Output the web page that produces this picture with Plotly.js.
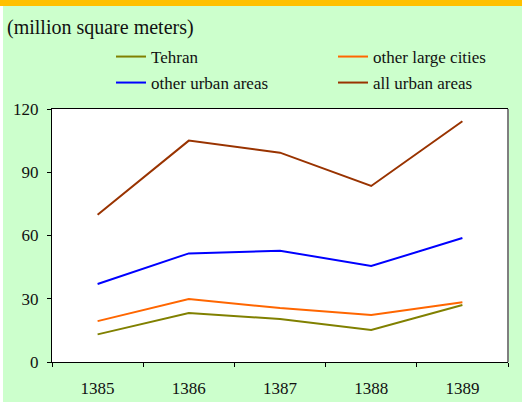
<!DOCTYPE html>
<html>
<head>
<meta charset="utf-8">
<script src="https://cdn.plot.ly/plotly-3.0.1.min.js"></script>
<style>
  html, body { margin: 0; padding: 0; background: #CCFFCC; }
  #chart { width: 522px; height: 402px; }
</style>
</head>
<body>
<div id="chart"></div>
<script>
const years = ["1385", "1386", "1387", "1388", "1389"];
const tehran = [13.1, 23.2, 20.4, 15.2, 27.0];
const otherLargeCities = [19.4, 29.9, 25.6, 22.3, 28.3];
const otherUrbanAreas = [37.0, 51.5, 52.8, 45.5, 58.8];
const allUrbanAreas = [69.8, 105.0, 99.3, 83.5, 114.2];
const yTicks = [0, 30, 60, 90, 120];

const W = 522, H = 402;
const m = { l: 52, r: 14, t: 109, b: 40 };
const pw = W - m.l - m.r, ph = H - m.t - m.b;
const px = x => (x - m.l) / pw;
const py = y => 1 - (y - m.t) / ph;

const serif = "Liberation Serif, Times New Roman, serif";

function tr(name, y, color, legend) {
  return {
    type: "scatter", mode: "lines", name: name, x: years, y: y,
    line: { color: color, width: 2 }, legend: legend, hoverinfo: "skip"
  };
}

const data = [
  tr("Tehran", tehran, "#808000", "legend"),
  tr("other large cities", otherLargeCities, "#FF6600", "legend2"),
  tr("other urban areas", otherUrbanAreas, "#0000FF", "legend3"),
  tr("all urban areas", allUrbanAreas, "#993300", "legend4")
];

const legendBase = {
  orientation: "v", xanchor: "left", yanchor: "middle",
  bgcolor: "rgba(0,0,0,0)", borderwidth: 0,
  font: { family: serif, size: 17, color: "#111" }
};
const col1 = 111, col2 = 333, row1 = 57, row2 = 83;

const layout = {
  width: W, height: H,
  margin: m,
  paper_bgcolor: "#CCFFCC",
  plot_bgcolor: "#FFFFFF",
  showlegend: true,
  title: {
    text: "(million square meters)",
    x: 7 / W, xanchor: "left", xref: "container",
    y: 1 - 27 / H, yanchor: "middle", yref: "container",
    font: { family: serif, size: 20, color: "#111" }
  },
  legend: Object.assign({}, legendBase, { x: px(col1), y: py(row1) }),
  legend2: Object.assign({}, legendBase, { x: px(col2), y: py(row1) }),
  legend3: Object.assign({}, legendBase, { x: px(col1), y: py(row2) }),
  legend4: Object.assign({}, legendBase, { x: px(col2), y: py(row2) }),
  xaxis: {
    type: "category",
    range: [-0.5, 4.5],
    tickson: "boundaries",
    ticks: "outside", ticklen: 4, tickcolor: "#000", tickwidth: 1,
    showline: true, linecolor: "#000", linewidth: 1, mirror: true,
    showgrid: false, zeroline: false,
    ticklabelstandoff: 11,
    tickfont: { family: serif, size: 17, color: "#111" },
    fixedrange: true
  },
  yaxis: {
    range: [0, 120],
    tickvals: yTicks,
    ticks: "outside", ticklen: 4, tickcolor: "#000", tickwidth: 1,
    showline: true, linecolor: "#000", linewidth: 1,
    showgrid: false, zeroline: false,
    ticklabelstandoff: 5,
    tickfont: { family: serif, size: 17, color: "#111" },
    fixedrange: true
  },
  shapes: [
    { type: "rect", xref: "paper", yref: "paper", layer: "below",
      x0: px(0), x1: px(W), y0: py(6), y1: py(0),
      fillcolor: "#FFC000", line: { width: 0 } },
    { type: "rect", xref: "paper", yref: "paper", layer: "below",
      x0: px(0), x1: px(3), y0: py(H), y1: py(6),
      fillcolor: "#FFFFFF", line: { width: 0 } },
    { type: "line", xref: "paper", yref: "paper",
      x0: 1, x1: 1, y0: 0, y1: 1,
      line: { color: "#7F7F7F", width: 2 } }
  ]
};

Plotly.newPlot("chart", data, layout, { displayModeBar: false, staticPlot: true });
</script>
</body>
</html>
